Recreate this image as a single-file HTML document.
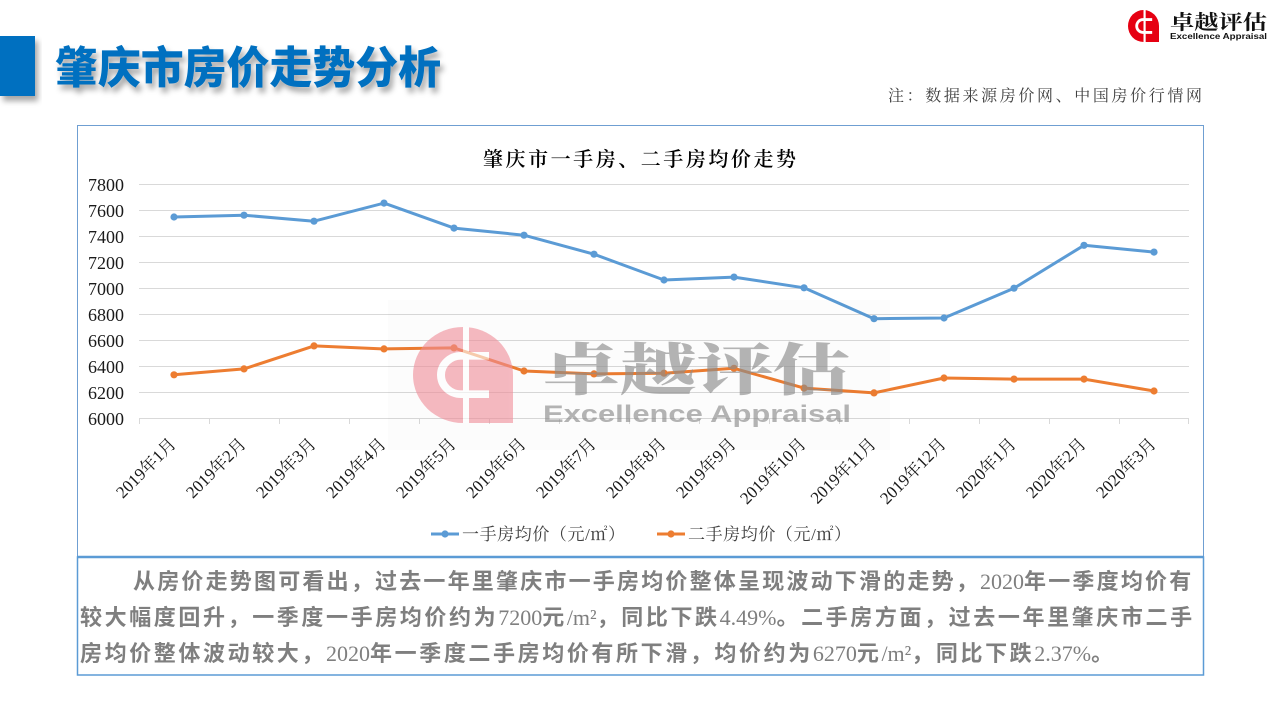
<!DOCTYPE html>
<html>
<head>
<meta charset="utf-8">
<style>
  html,body{margin:0;padding:0;background:#fff;}
  svg{display:block;}
</style>
</head>
<body>
<svg width="1280" height="720" viewBox="0 0 1280 720" xmlns="http://www.w3.org/2000/svg">
  <defs>
    <filter id="sh" x="-10%" y="-30%" width="130%" height="180%">
      <feDropShadow dx="3" dy="5" stdDeviation="3" flood-color="#000" flood-opacity="0.35"/>
    </filter>
  </defs>
  <rect width="1280" height="720" fill="#fff"/>

  <!-- Header -->
  <rect x="0" y="36" width="35" height="60" fill="#0070C0" filter="url(#sh)"/>
  <text x="55" y="83" font-family="'Noto Sans CJK SC', sans-serif" font-weight="900" font-size="44" fill="#0070C0" textLength="386" lengthAdjust="spacingAndGlyphs" filter="url(#sh)">肇庆市房价走势分析</text>

  <!-- Top-right logo -->
  <g transform="translate(1128,10) scale(0.31,0.32)">
    <path d="M50,0 A50,50 0 0 0 0,50 A50,50 0 0 0 50,100 L100,100 L100,50 A50,50 0 0 0 50,0 Z" fill="#E60012"/>
    <rect x="50" y="0" width="7" height="100" fill="#fff"/>
    <path d="M78,30 H48 A20,20 0 0 0 48,70 H78" fill="none" stroke="#fff" stroke-width="9"/>
  </g>
  <text x="1170" y="29" font-family="'Noto Serif CJK SC', serif" font-weight="bold" font-size="20" fill="#111" textLength="97" lengthAdjust="spacingAndGlyphs">卓越评估</text>
  <text x="1170" y="39" font-family="'Liberation Sans', sans-serif" font-weight="bold" font-size="8.5" fill="#111" textLength="97" lengthAdjust="spacingAndGlyphs">Excellence Appraisal</text>

  <!-- Note -->
  <text x="888" y="101" font-family="'Liberation Serif','Noto Serif CJK SC', serif" font-size="16" fill="#404040" textLength="314" lengthAdjust="spacing">注：数据来源房价网、中国房价行情网</text>

  <!-- Chart border -->
  <rect x="77.5" y="125.5" width="1126" height="431" fill="none" stroke="#6F9FD2" stroke-width="1"/>

  <!-- Chart title -->
  <text x="483" y="166" font-family="'Noto Serif CJK SC', serif" font-weight="600" font-size="20" fill="#000" textLength="313" lengthAdjust="spacing">肇庆市一手房、二手房均价走势</text>

  <!-- Gridlines -->
  <g stroke="#D9D9D9" stroke-width="1">
    <line x1="139" y1="184.5" x2="1189" y2="184.5"/>
    <line x1="139" y1="210.5" x2="1189" y2="210.5"/>
    <line x1="139" y1="236.5" x2="1189" y2="236.5"/>
    <line x1="139" y1="262.5" x2="1189" y2="262.5"/>
    <line x1="139" y1="288.5" x2="1189" y2="288.5"/>
    <line x1="139" y1="314.5" x2="1189" y2="314.5"/>
    <line x1="139" y1="340.5" x2="1189" y2="340.5"/>
    <line x1="139" y1="366.5" x2="1189" y2="366.5"/>
    <line x1="139" y1="392.5" x2="1189" y2="392.5"/>
    <line x1="139" y1="418.5" x2="1189" y2="418.5"/>
  </g>
  <!-- x ticks -->
  <g stroke="#D9D9D9" stroke-width="1">
    <line x1="139.5" y1="418" x2="139.5" y2="424"/>
    <line x1="209.5" y1="418" x2="209.5" y2="424"/>
    <line x1="279.5" y1="418" x2="279.5" y2="424"/>
    <line x1="349.5" y1="418" x2="349.5" y2="424"/>
    <line x1="419.5" y1="418" x2="419.5" y2="424"/>
    <line x1="489.5" y1="418" x2="489.5" y2="424"/>
    <line x1="559.5" y1="418" x2="559.5" y2="424"/>
    <line x1="629.5" y1="418" x2="629.5" y2="424"/>
    <line x1="699.5" y1="418" x2="699.5" y2="424"/>
    <line x1="769.5" y1="418" x2="769.5" y2="424"/>
    <line x1="839.5" y1="418" x2="839.5" y2="424"/>
    <line x1="909.5" y1="418" x2="909.5" y2="424"/>
    <line x1="979.5" y1="418" x2="979.5" y2="424"/>
    <line x1="1049.5" y1="418" x2="1049.5" y2="424"/>
    <line x1="1119.5" y1="418" x2="1119.5" y2="424"/>
    <line x1="1188.5" y1="418" x2="1188.5" y2="424"/>
  </g>

  <!-- Y labels -->
  <g font-family="'Liberation Serif', serif" font-size="18" fill="#1a1a1a" text-anchor="end">
    <text x="124" y="191">7800</text>
    <text x="124" y="217">7600</text>
    <text x="124" y="243">7400</text>
    <text x="124" y="269">7200</text>
    <text x="124" y="295">7000</text>
    <text x="124" y="321">6800</text>
    <text x="124" y="347">6600</text>
    <text x="124" y="373">6400</text>
    <text x="124" y="399">6200</text>
    <text x="124" y="425">6000</text>
  </g>

  <!-- X labels -->
  <g font-family="'Liberation Serif','Noto Serif CJK SC', serif" font-size="17" fill="#1a1a1a" text-anchor="end">
    <text transform="translate(177,445) rotate(-45)">2019年1月</text>
    <text transform="translate(247,445) rotate(-45)">2019年2月</text>
    <text transform="translate(317,445) rotate(-45)">2019年3月</text>
    <text transform="translate(387,445) rotate(-45)">2019年4月</text>
    <text transform="translate(457,445) rotate(-45)">2019年5月</text>
    <text transform="translate(527,445) rotate(-45)">2019年6月</text>
    <text transform="translate(597,445) rotate(-45)">2019年7月</text>
    <text transform="translate(667,445) rotate(-45)">2019年8月</text>
    <text transform="translate(737,445) rotate(-45)">2019年9月</text>
    <text transform="translate(807,445) rotate(-45)">2019年10月</text>
    <text transform="translate(877,445) rotate(-45)">2019年11月</text>
    <text transform="translate(947,445) rotate(-45)">2019年12月</text>
    <text transform="translate(1017,445) rotate(-45)">2020年1月</text>
    <text transform="translate(1087,445) rotate(-45)">2020年2月</text>
    <text transform="translate(1157,445) rotate(-45)">2020年3月</text>
  </g>

  <!-- Series: 一手房 -->
  <polyline fill="none" stroke="#5B9BD5" stroke-width="3" stroke-linejoin="round" stroke-linecap="round"
    points="174,217 244,215.2 314,221.2 384,203.1 454,228.1 524,235.2 594,254.2 664,280 734,277.1 804,287.8 874,318.7 944,318 1014,288.2 1084,245.3 1154,252.1"/>
  <g fill="#5B9BD5">
    <circle cx="174" cy="217" r="3.6"/><circle cx="244" cy="215.2" r="3.6"/><circle cx="314" cy="221.2" r="3.6"/>
    <circle cx="384" cy="203.1" r="3.6"/><circle cx="454" cy="228.1" r="3.6"/><circle cx="524" cy="235.2" r="3.6"/>
    <circle cx="594" cy="254.2" r="3.6"/><circle cx="664" cy="280" r="3.6"/><circle cx="734" cy="277.1" r="3.6"/>
    <circle cx="804" cy="287.8" r="3.6"/><circle cx="874" cy="318.7" r="3.6"/><circle cx="944" cy="318" r="3.6"/>
    <circle cx="1014" cy="288.2" r="3.6"/><circle cx="1084" cy="245.3" r="3.6"/><circle cx="1154" cy="252.1" r="3.6"/>
  </g>

  <!-- Series: 二手房 -->
  <polyline fill="none" stroke="#ED7D31" stroke-width="3" stroke-linejoin="round" stroke-linecap="round"
    points="174,374.8 244,368.9 314,345.9 384,348.9 454,347.9 524,371 594,373.9 664,373.2 734,368.3 804,388.1 874,392.9 944,378 1014,379.1 1084,379.1 1154,391"/>
  <g fill="#ED7D31">
    <circle cx="174" cy="374.8" r="3.6"/><circle cx="244" cy="368.9" r="3.6"/><circle cx="314" cy="345.9" r="3.6"/>
    <circle cx="384" cy="348.9" r="3.6"/><circle cx="454" cy="347.9" r="3.6"/><circle cx="524" cy="371" r="3.6"/>
    <circle cx="594" cy="373.9" r="3.6"/><circle cx="664" cy="373.2" r="3.6"/><circle cx="734" cy="368.3" r="3.6"/>
    <circle cx="804" cy="388.1" r="3.6"/><circle cx="874" cy="392.9" r="3.6"/><circle cx="944" cy="378" r="3.6"/>
    <circle cx="1014" cy="379.1" r="3.6"/><circle cx="1084" cy="379.1" r="3.6"/><circle cx="1154" cy="391" r="3.6"/>
  </g>

  <!-- Watermark -->
  <rect x="388" y="300" width="502" height="150" fill="#000" fill-opacity="0.012"/>
  <g transform="translate(413,327) scale(1,0.96)" opacity="0.6">
    <path d="M50,0 A50,50 0 0 0 0,50 A50,50 0 0 0 50,100 L100,100 L100,50 A50,50 0 0 0 50,0 Z" fill="#F08C97"/>
    <rect x="50" y="0" width="6" height="100" fill="#fff"/>
    <path d="M76,30 H48 A20,20 0 0 0 48,70 H76" fill="none" stroke="#fff" stroke-width="8"/>
  </g>
  <text x="543" y="390" font-family="'Noto Serif CJK SC', serif" font-weight="900" font-size="56" fill="#8c8c8c" fill-opacity="0.65" textLength="307" lengthAdjust="spacingAndGlyphs">卓越评估</text>
  <text x="543" y="422" font-family="'Liberation Sans', sans-serif" font-weight="bold" font-size="24" fill="#8c8c8c" fill-opacity="0.65" textLength="308" lengthAdjust="spacingAndGlyphs">Excellence Appraisal</text>

  <!-- Legend -->
  <line x1="431" y1="534" x2="459" y2="534" stroke="#5B9BD5" stroke-width="3"/>
  <circle cx="445" cy="534" r="3.6" fill="#5B9BD5"/>
  <text x="462" y="540" font-family="'Liberation Serif','Noto Serif CJK SC', serif" font-size="17" fill="#404040" textLength="163" lengthAdjust="spacing">一手房均价（元/㎡）</text>
  <line x1="657" y1="534" x2="685" y2="534" stroke="#ED7D31" stroke-width="3"/>
  <circle cx="671" cy="534" r="3.6" fill="#ED7D31"/>
  <text x="688" y="540" font-family="'Liberation Serif','Noto Serif CJK SC', serif" font-size="17" fill="#404040" textLength="163" lengthAdjust="spacing">二手房均价（元/㎡）</text>

  <!-- Text box -->
  <rect x="77.5" y="557" width="1126" height="118" fill="#fff" stroke="#5B9BD5" stroke-width="1.5"/>
  <line x1="77" y1="557" x2="1204" y2="557" stroke="#5B9BD5" stroke-width="2.5"/>
  <g font-family="'Noto Sans CJK SC', sans-serif" font-weight="bold" font-size="22" fill="#7F7F7F">
    <text x="133" y="589" letter-spacing="2.2">从房价走势图可看出，过去一年里肇庆市一手房均价整体呈现波动下滑的走势，<tspan font-family="'Liberation Serif', serif" font-weight="normal" letter-spacing="0">2020</tspan>年一季度均价有</text>
    <text x="80" y="625" letter-spacing="2.6">较大幅度回升，一季度一手房均价约为<tspan font-family="'Liberation Serif', serif" font-weight="normal" letter-spacing="0">7200</tspan>元<tspan font-family="'Liberation Serif', serif" font-weight="normal" letter-spacing="0">/m²</tspan>，同比下跌<tspan font-family="'Liberation Serif', serif" font-weight="normal" letter-spacing="0">4.49%</tspan>。二手房方面，过去一年里肇庆市二手</text>
    <text x="80" y="661" letter-spacing="2.6">房均价整体波动较大，<tspan font-family="'Liberation Serif', serif" font-weight="normal" letter-spacing="0">2020</tspan>年一季度二手房均价有所下滑，均价约为<tspan font-family="'Liberation Serif', serif" font-weight="normal" letter-spacing="0">6270</tspan>元<tspan font-family="'Liberation Serif', serif" font-weight="normal" letter-spacing="0">/m²</tspan>，同比下跌<tspan font-family="'Liberation Serif', serif" font-weight="normal" letter-spacing="0">2.37%</tspan>。</text>
  </g>
</svg>
</body>
</html>
